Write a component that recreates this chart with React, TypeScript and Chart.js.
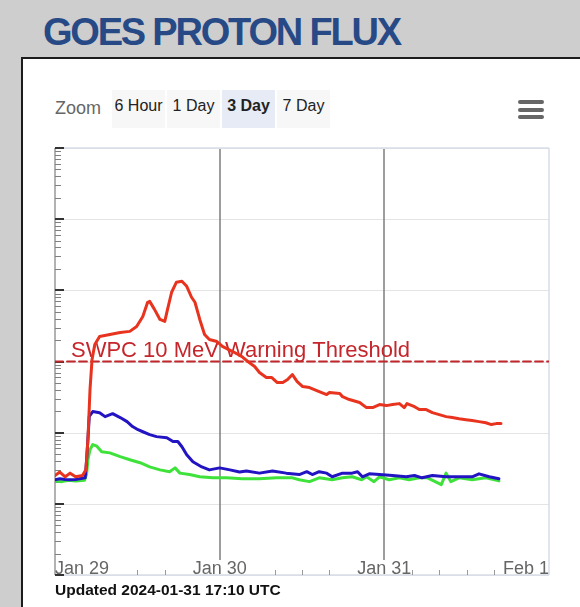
import React, { useEffect, useRef } from "react";
import { Chart, registerables } from "chart.js";

Chart.register(...registerables);

// ---------- data ----------
const titleText = "GOES PROTON FLUX";
const updatedText = "Updated 2024-01-31 17:10 UTC";
const zoomButtons = ["6 Hour", "1 Day", "3 Day", "7 Day"];
const selectedZoom = 2;

const dayLabels = ["Jan 29", "Jan 30", "Jan 31", "Feb 1"];
const dayHours = [0, 24, 48, 72]; // hours since 2024-01-29 00:00 UTC
const minorTickHours = [12, 16, 32, 36, 40, 52, 56, 60, 64];
const yDecades = [0.01, 0.1, 1, 10, 100, 1000, 10000];
const thresholdFlux = 10;
const thresholdLabel = "SWPC 10 MeV Warning Threshold";

// >=10 MeV (red)
const p10Hours = [0, 0.7, 1.5, 2.2, 3.0, 4.0, 4.5, 4.8, 5.1, 5.4, 5.8, 6.5, 8.0, 9.5, 10.9, 11.9, 12.8, 13.5, 13.8, 14.5, 15.3, 16.0, 16.4, 17.0, 17.7, 18.5, 19.2, 19.9, 20.4, 21.1, 21.8, 22.5, 23.6, 24.4, 25.9, 27.2, 28.1, 29.1, 29.8, 30.8, 31.6, 32.4, 33.2, 33.9, 34.6, 35.3, 36.1, 37.1, 38.5, 39.6, 40.0, 41.5, 41.9, 42.9, 44.4, 45.4, 46.3, 47.3, 48.3, 49.2, 50.2, 50.9, 51.3, 52.4, 53.1, 54.1, 55.0, 56.0, 57.0, 57.9, 58.9, 59.9, 60.8, 61.8, 62.8, 63.6, 64.3, 65.0];
const p10Flux = [0.25, 0.28, 0.24, 0.27, 0.24, 0.25, 0.30, 0.80, 4.0, 10.7, 17.3, 22.5, 24, 25.6, 26.5, 31, 43, 68, 70, 54, 39, 36.6, 54, 94, 130, 134, 114, 80, 68, 39, 24, 20.4, 19.1, 16.3, 13.8, 11.8, 10, 8.5, 7.0, 5.95, 5.95, 5.06, 5.06, 5.57, 6.56, 5.23, 4.44, 4.3, 3.78, 3.43, 3.66, 3.54, 3.21, 2.92, 2.65, 2.25, 2.25, 2.48, 2.40, 2.48, 2.56, 2.25, 2.56, 2.32, 2.11, 2.11, 1.91, 1.79, 1.68, 1.63, 1.57, 1.52, 1.48, 1.43, 1.38, 1.30, 1.34, 1.34];

// >=50 MeV (blue)
const p50Hours = [0, 0.7, 1.5, 2.2, 3.0, 3.6, 4.4, 4.6, 5.0, 5.5, 6.5, 7.3, 8.4, 9.5, 10.5, 11.3, 12.1, 12.8, 13.8, 14.8, 16.3, 17.2, 17.9, 18.5, 19.2, 20.1, 21.4, 22.5, 24.0, 25.5, 26.9, 27.9, 29.8, 31.7, 33.7, 35.6, 36.7, 37.5, 38.5, 39.6, 40.4, 41.9, 43.3, 44.1, 44.8, 45.8, 47.3, 49.2, 51.2, 52.4, 53.5, 55.0, 57.0, 58.9, 60.8, 61.8, 63.3, 64.7];
const p50Flux = [0.218, 0.225, 0.22, 0.218, 0.22, 0.225, 0.232, 0.4, 1.7, 1.98, 1.91, 1.68, 1.85, 1.63, 1.43, 1.22, 1.10, 1.03, 0.94, 0.88, 0.85, 0.75, 0.75, 0.635, 0.49, 0.39, 0.33, 0.30, 0.32, 0.30, 0.28, 0.29, 0.27, 0.29, 0.27, 0.258, 0.283, 0.258, 0.283, 0.27, 0.24, 0.27, 0.27, 0.283, 0.24, 0.264, 0.258, 0.25, 0.24, 0.25, 0.232, 0.25, 0.24, 0.24, 0.24, 0.264, 0.24, 0.225];

// >=100 MeV (green)
const p100Hours = [0, 1.0, 2.0, 3.0, 4.3, 4.6, 4.8, 5.1, 5.5, 6.1, 6.8, 8.0, 9.5, 10.9, 12.4, 13.8, 15.3, 16.7, 17.5, 18.2, 19.6, 21.1, 23.0, 25.0, 27.3, 29.8, 32.3, 34.6, 35.6, 37.1, 38.5, 40.4, 41.9, 43.3, 44.7, 45.4, 46.5, 47.3, 48.7, 50.2, 51.6, 53.1, 54.3, 56.3, 57.0, 57.7, 58.9, 60.8, 62.8, 64.7];
const p100Flux = [0.21, 0.205, 0.215, 0.21, 0.215, 0.26, 0.417, 0.577, 0.68, 0.645, 0.54, 0.52, 0.46, 0.417, 0.378, 0.33, 0.30, 0.283, 0.32, 0.27, 0.258, 0.24, 0.232, 0.232, 0.225, 0.225, 0.232, 0.232, 0.218, 0.205, 0.232, 0.218, 0.232, 0.24, 0.218, 0.24, 0.205, 0.24, 0.218, 0.232, 0.218, 0.232, 0.232, 0.186, 0.27, 0.205, 0.232, 0.218, 0.232, 0.21];

const FONT = '"Liberation Sans", Arial, Helvetica, sans-serif';

const toPoints = (hs: number[], vs: number[]) => hs.map((h, i) => ({ x: h, y: vs[i] }));

const overlayPlugin = {
  id: "overlay",
  beforeDatasetsDraw(chart: any) {
    const { ctx, chartArea: a, scales } = chart;
    const x = scales.x;
    const y = scales.y;
    const line = (x1: number, y1: number, x2: number, y2: number) => {
      ctx.beginPath();
      ctx.moveTo(x1, y1);
      ctx.lineTo(x2, y2);
      ctx.stroke();
    };
    ctx.save();
    // horizontal decade gridlines
    ctx.strokeStyle = "#e4e4e4";
    ctx.lineWidth = 1;
    yDecades.forEach((v) => {
      const py = Math.round(y.getPixelForValue(v)) + 0.5;
      line(a.left, py, a.right, py);
    });
    // frame
    ctx.strokeStyle = "#d6dde8";
    ctx.lineWidth = 1.5;
    line(a.left, a.top, a.right, a.top);
    line(a.right, a.top, a.right, a.bottom);
    line(a.left, a.bottom, a.right, a.bottom);
    // day lines
    ctx.strokeStyle = "#7c7c7c";
    ctx.lineWidth = 1.5;
    dayHours.slice(1, -1).forEach((h) => {
      const px = Math.round(x.getPixelForValue(h));
      line(px, a.top + 1, px, a.bottom - 15);
    });
    // left axis line
    ctx.strokeStyle = "#999";
    ctx.lineWidth = 1.5;
    line(a.left, a.top, a.left, a.bottom);
    // minor y ticks
    ctx.strokeStyle = "#808080";
    ctx.lineWidth = 1;
    yDecades.slice(0, -1).forEach((d) => {
      for (let k = 2; k <= 9; k++) {
        const py = Math.round(y.getPixelForValue(d * k)) + 0.5;
        line(a.left, py, a.left + 6, py);
      }
    });
    // major y ticks
    ctx.strokeStyle = "#333";
    ctx.lineWidth = 2;
    yDecades.forEach((v) => {
      const py = Math.round(y.getPixelForValue(v));
      line(a.left, py, a.left + 9, py);
    });
    // x minor ticks
    ctx.strokeStyle = "#999";
    ctx.lineWidth = 1;
    minorTickHours.forEach((h) => {
      const px = Math.round(x.getPixelForValue(h)) + 0.5;
      line(px, a.bottom - 5, px, a.bottom);
    });
    // x labels
    ctx.font = `18px ${FONT}`;
    ctx.fillStyle = "#666";
    ctx.textBaseline = "alphabetic";
    dayLabels.forEach((t, i) => {
      ctx.textAlign = i === 0 ? "left" : i === dayLabels.length - 1 ? "right" : "center";
      ctx.fillText(t, x.getPixelForValue(dayHours[i]), a.bottom - 1);
    });
    // threshold label
    ctx.font = `22px ${FONT}`;
    ctx.fillStyle = "#c4262b";
    ctx.textAlign = "left";
    ctx.fillText(thresholdLabel, a.left + 16, y.getPixelForValue(thresholdFlux) - 5);
    ctx.restore();
  },
};

function ProtonChart() {
  const ref = useRef<HTMLCanvasElement | null>(null);
  useEffect(() => {
    if (!ref.current) return;
    const chart = new Chart(ref.current, {
      type: "line",
      data: {
        datasets: [
          {
            label: ">=10 MeV",
            data: toPoints(p10Hours, p10Flux),
            borderColor: "#e8341e",
            borderWidth: 3,
          },
          {
            label: ">=50 MeV",
            data: toPoints(p50Hours, p50Flux),
            borderColor: "#2214c2",
            borderWidth: 3,
          },
          {
            label: ">=100 MeV",
            data: toPoints(p100Hours, p100Flux),
            borderColor: "#3fe23a",
            borderWidth: 3,
          },
          {
            label: "threshold",
            data: [
              { x: dayHours[0], y: thresholdFlux },
              { x: dayHours[dayHours.length - 1], y: thresholdFlux },
            ],
            borderColor: "#c0262a",
            borderWidth: 1.8,
            borderDash: [8, 4],
          },
        ],
      },
      options: {
        responsive: false,
        animation: false,
        devicePixelRatio: 1,
        layout: { padding: { left: 55, top: 148, right: 31, bottom: 32 } },
        elements: {
          point: { radius: 0, hoverRadius: 0 },
          line: { tension: 0, borderJoinStyle: "round", borderCapStyle: "round", fill: false },
        },
        scales: {
          x: { type: "linear", min: dayHours[0], max: dayHours[dayHours.length - 1], display: false },
          y: { type: "logarithmic", min: yDecades[0], max: yDecades[yDecades.length - 1], display: false },
        },
        plugins: { legend: { display: false }, tooltip: { enabled: false }, title: { display: false } },
        events: [],
      } as any,
      plugins: [overlayPlugin],
    });
    return () => chart.destroy();
  }, []);
  return <canvas ref={ref} width={580} height={607} style={{ position: "absolute", left: 0, top: 0 }} />;
}

export default function App() {
  const btnLefts = [112, 167, 222, 277];
  return (
    <div
      style={{
        position: "fixed",
        left: 0,
        top: 0,
        width: 580,
        height: 607,
        overflow: "hidden",
        background: "#cecece",
        fontFamily: FONT,
      }}
    >
      <div
        style={{
          position: "absolute",
          left: 43,
          top: 13,
          fontSize: 38,
          lineHeight: "38px",
          fontWeight: "bold",
          color: "#274a86",
          letterSpacing: "-2.2px",
          whiteSpace: "nowrap",
        }}
      >
        {titleText}
      </div>
      <div
        style={{
          position: "absolute",
          left: 21,
          top: 57,
          right: 0,
          bottom: 0,
          background: "#fff",
          borderTop: "2px solid #1c1c1c",
          borderLeft: "2px solid #1c1c1c",
        }}
      />
      <div style={{ position: "absolute", left: 55, top: 99, fontSize: 18, lineHeight: "18px", color: "#666" }}>Zoom</div>
      {zoomButtons.map((b, i) => (
        <div
          key={b}
          style={{
            position: "absolute",
            left: btnLefts[i],
            top: 90,
            width: 53,
            height: 38,
            boxSizing: "border-box",
            paddingTop: 8,
            background: i === selectedZoom ? "#e6ebf5" : "#f7f7f7",
            textAlign: "center",
            fontSize: 16,
            lineHeight: "16px",
            fontWeight: i === selectedZoom ? "bold" : "normal",
            color: "#222",
            whiteSpace: "nowrap",
          }}
        >
          {b}
        </div>
      ))}
      {[100, 107.5, 115].map((t) => (
        <div
          key={t}
          style={{ position: "absolute", left: 518, top: t, width: 26, height: 4, borderRadius: 2, background: "#666" }}
        />
      ))}
      <ProtonChart />
      <div
        style={{
          position: "absolute",
          left: 55,
          top: 582,
          fontSize: 15.5,
          lineHeight: "15.5px",
          fontWeight: "bold",
          color: "#111",
          whiteSpace: "nowrap",
        }}
      >
        {updatedText}
      </div>
    </div>
  );
}
